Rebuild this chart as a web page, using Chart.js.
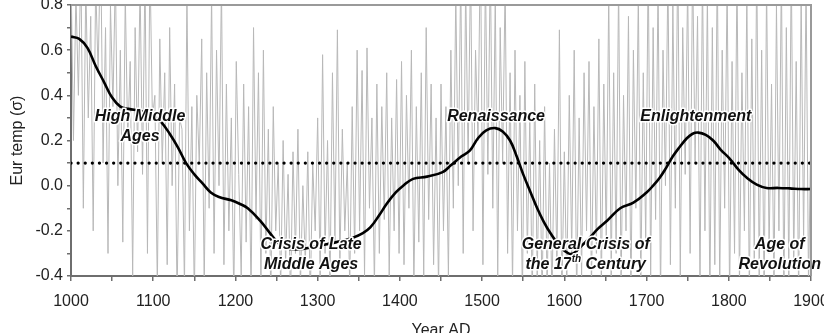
<!DOCTYPE html>
<html>
<head>
<meta charset="utf-8">
<title>European temperature reconstruction, 1000-1900</title>
<script src="https://cdn.jsdelivr.net/npm/chart.js@4.4.1/dist/chart.umd.min.js"></script>
<style>
  html, body { margin: 0; padding: 0; background: #fff; }
  #wrap { width: 824px; height: 333px; position: relative; }
</style>
</head>
<body>
<div id="wrap"><canvas id="eur-temp"></canvas></div>
<script>
// annual proxy series, sampled every 3 years from 1000 AD
const proxyStartYear = 1000;
const proxyStep = 3;
const proxyValues = [
  0.95, 0.2, 0.85, 0.4, 1.0, -0.1, 0.9, 0.3, 0.75, -0.2,
  0.9, 0.5, 1.1, 0.1, 0.7, -0.3, 0.8, 0.35, 0.95, 0.0,
  0.6, -0.25, 0.85, 0.2, 0.55, -0.4, 0.7, 0.15, 0.9, 0.05,
  0.95, -0.3, 1.0, 0.3, 0.4, -0.45, 0.65, 0.1, 0.5, -0.35,
  0.7, 0.0, 0.45, -0.5, 0.3, 0.25, -0.45, 0.85, -0.2, 0.35,
  -0.5, 0.4, 0.1, 0.65, -0.45, 0.5, -0.1, 0.85, -0.3, 0.6,
  0.0, 0.9, -0.35, 0.45, -0.2, 0.3, -0.5, 0.55, 0.05, -0.4,
  0.45, -0.25, 0.35, -0.5, 0.7, -0.15, 0.5, -0.45, 0.6, -0.3,
  0.25, -0.5, 0.35, -0.2, 0.1, -0.45, 0.2, -0.35, 0.05, -0.5,
  0.15, -0.3, 0.25, -0.45, 0.0, -0.35, 0.15, -0.5, 0.1, -0.2,
  0.3, -0.4, 0.58, -0.3, 0.2, -0.45, 0.5, -0.25, 0.69, -0.35,
  0.25, -0.2, 0.1, -0.45, 0.35, -0.3, 0.6, -0.2, 0.51, -0.4,
  0.61, -0.1, 0.3, -0.45, 0.45, -0.3, 0.35, -0.15, 0.5, -0.4,
  0.3, -0.2, 0.47, -0.3, 0.55, -0.35, 0.4, -0.1, 0.6, -0.45,
  0.35, -0.25, 0.5, -0.4, 0.7, -0.15, 0.45, -0.35, 0.3, -0.45,
  0.45, -0.2, 0.35, -0.4, 0.6, -0.1, 0.85, 0.0, 0.95, -0.3,
  0.9, 0.1, 1.0, -0.2, 0.6, 0.2, 1.1, -0.35, 0.95, 0.05,
  1.0, -0.1, 0.85, -0.4, 0.7, 0.1, 0.9, -0.3, 0.5, -0.45,
  0.6, -0.2, 0.4, -0.5, 0.55, -0.3, 0.3, -0.5, 0.45, -0.4,
  0.2, -0.5, 0.35, -0.45, 0.1, -0.5, 0.25, -0.35, 0.69, -0.5,
  0.15, -0.45, 0.4, -0.3, 0.6, -0.5, 0.3, -0.4, 0.5, -0.2,
  0.55, -0.45, 0.35, -0.3, 0.65, -0.45, 0.45, -0.25, 0.85, -0.4,
  0.5, -0.3, 0.9, -0.45, 0.4, -0.2, 0.75, -0.5, 0.6, -0.1,
  0.85, -0.45, 0.5, -0.25, 1.0, -0.4, 0.7, -0.15, 0.9, -0.5,
  0.6, 0.0, 0.95, -0.35, 0.8, -0.1, 1.05, -0.4, 0.7, 0.05,
  0.9, -0.3, 1.0, 0.1, 0.75, -0.45, 0.95, -0.2, 0.85, -0.5,
  0.7, -0.35, 1.0, -0.45, 0.6, -0.1, 0.9, -0.5, 0.55, -0.3,
  0.95, -0.45, 0.5, -0.2, 0.85, -0.5, 0.65, -0.35, 1.0, -0.4,
  0.6, -0.5, 0.9, -0.3, 0.45, -0.45, 0.8, -0.2, 0.95, -0.5,
  0.7, -0.4, 1.0, -0.35, 0.55, -0.5, 0.85, -0.25, 0.9, -0.45,
  0.3
];

// low-pass filtered curve
const smoothYears = [
  1000, 1010, 1020, 1030, 1040, 1050, 1060, 1070, 1085, 1100,
  1110, 1120, 1130, 1140, 1150, 1160, 1170, 1180, 1195, 1205,
  1215, 1230, 1242, 1254, 1266, 1282, 1303, 1323, 1343, 1355,
  1364, 1375, 1384, 1395, 1404, 1416, 1433, 1452, 1462, 1475,
  1485, 1495, 1505, 1516, 1525, 1534, 1542, 1550, 1559, 1567,
  1575, 1583, 1595, 1605, 1611, 1620, 1631, 1641, 1652, 1668,
  1684, 1700, 1708, 1716, 1724, 1732, 1740, 1749, 1756, 1763,
  1772, 1781, 1790, 1801, 1812, 1822, 1834, 1846, 1860, 1874,
  1888, 1900
];
const smoothValues = [
  0.66, 0.65, 0.61, 0.53, 0.46, 0.39, 0.35, 0.34, 0.33, 0.31,
  0.28, 0.23, 0.17, 0.10, 0.05, 0.01, -0.03, -0.05, -0.065, -0.08,
  -0.10, -0.155, -0.21, -0.26, -0.28, -0.28, -0.265, -0.25, -0.23, -0.21,
  -0.185, -0.13, -0.08, -0.03, 0.0, 0.03, 0.04, 0.06, 0.09, 0.13,
  0.155, 0.21, 0.245, 0.255, 0.24, 0.20, 0.13, 0.05, -0.03, -0.10,
  -0.16, -0.21, -0.27, -0.30, -0.30, -0.27, -0.23, -0.19, -0.155, -0.10,
  -0.075, -0.03, 0.0, 0.035, 0.08, 0.13, 0.17, 0.21, 0.23, 0.235,
  0.225, 0.20, 0.16, 0.12, 0.07, 0.035, 0.005, -0.01, -0.01, -0.012,
  -0.015, -0.015
];

// long-term mean
const meanYears = [1000, 1900];
const meanValues = [0.1, 0.1];

const periodLabels = [
  { lines: ['High Middle', 'Ages'], year: 1084, value: 0.305 },
  { lines: ['Renaissance'], year: 1517, value: 0.305 },
  { lines: ['Enlightenment'], year: 1760, value: 0.305 },
  { lines: ['Crisis of Late', 'Middle Ages'], year: 1292, value: -0.262 },
  { lines: ['General Crisis of', 'the 17^th^ Century'], year: 1626, value: -0.262 },
  { lines: ['Age of', 'Revolution'], year: 1862, value: -0.262 }
];

const toPoints = (xs, ys) => xs.map((x, i) => ({ x: x, y: ys[i] }));
const proxyPoints = proxyValues.map((v, i) => ({ x: proxyStartYear + i * proxyStep, y: v }));

const FONT = '"Liberation Sans", Arial, sans-serif';

// gray frame on top and right of the plot area
const framePlugin = {
  id: 'frame',
  afterDraw(chart) {
    const { ctx, chartArea: a } = chart;
    ctx.save();
    ctx.strokeStyle = '#9a9a9a';
    ctx.lineWidth = 2;
    ctx.beginPath();
    ctx.moveTo(a.left, a.top);
    ctx.lineTo(a.right, a.top);
    ctx.lineTo(a.right, a.bottom);
    ctx.stroke();
    ctx.restore();
  }
};

// bold italic period names with a white halo, '^..^' marks superscript
const periodPlugin = {
  id: 'periods',
  afterDatasetsDraw(chart) {
    const { ctx, scales } = chart;
    const mainFont = 'italic bold 16px ' + FONT;
    const supFont = 'italic bold 10px ' + FONT;
    ctx.save();
    ctx.textBaseline = 'middle';
    ctx.textAlign = 'left';
    ctx.lineJoin = 'round';
    periodLabels.forEach(lbl => {
      const cx = scales.x.getPixelForValue(lbl.year);
      const cy = scales.y.getPixelForValue(lbl.value);
      lbl.lines.forEach((line, li) => {
        const parts = line.split('^').map((t, k) => ({ text: t, sup: k % 2 === 1 }));
        let total = 0;
        parts.forEach(p => {
          ctx.font = p.sup ? supFont : mainFont;
          p.w = ctx.measureText(p.text).width;
          total += p.w;
        });
        let x = cx - total / 2;
        const y = cy + li * 20;
        parts.forEach(p => {
          ctx.font = p.sup ? supFont : mainFont;
          const py = p.sup ? y - 6 : y;
          ctx.strokeStyle = '#fff';
          ctx.lineWidth = 3;
          ctx.strokeText(p.text, x, py);
          ctx.fillStyle = '#111';
          ctx.fillText(p.text, x, py);
          x += p.w;
        });
      });
    });
    ctx.restore();
  }
};

new Chart(document.getElementById('eur-temp'), {
  type: 'line',
  data: {
    datasets: [{
      label: 'Smoothed',
      data: toPoints(smoothYears, smoothValues),
      borderColor: '#000',
      borderWidth: 2.6,
      pointRadius: 0,
      tension: 0.4,
      fill: false
    }, {
      label: 'Mean',
      data: toPoints(meanYears, meanValues),
      borderColor: '#000',
      borderWidth: 3.2,
      borderDash: [0.1, 7],
      borderCapStyle: 'round',
      pointRadius: 0,
      fill: false
    }, {
      label: 'Annual',
      data: proxyPoints,
      borderColor: '#b8b8b8',
      borderWidth: 1,
      pointRadius: 0,
      tension: 0,
      fill: false
    }]
  },
  options: {
    responsive: true,
    maintainAspectRatio: false,
    animation: false,
    layout: { padding: { top: 5, right: 13, left: 0, bottom: 0 } },
    plugins: {
      legend: { display: false },
      tooltip: { enabled: false }
    },
    scales: {
      x: {
        type: 'linear',
        min: 1000,
        max: 1900,
        afterFit(scale) {
          scale.height = 57;
          scale.paddingLeft = 0;
          scale.paddingRight = 0;
        },
        border: { color: '#6e6e6e', width: 2 },
        grid: { drawOnChartArea: false, drawTicks: true, tickLength: 5, color: '#6e6e6e', lineWidth: 1.5 },
        ticks: {
          stepSize: 50,
          autoSkip: false,
          maxRotation: 0,
          padding: 11,
          color: '#222',
          font: { family: FONT, size: 16 },
          callback: v => (v % 100 === 0 ? String(v) : '')
        },
        title: {
          display: true,
          text: 'Year AD',
          color: '#222',
          font: { family: FONT, size: 16 },
          padding: { top: 0, bottom: -7 }
        }
      },
      y: {
        min: -0.4,
        max: 0.8,
        afterFit(scale) {
          scale.width = 71;
          scale.paddingTop = 0;
          scale.paddingBottom = 0;
        },
        border: { color: '#6e6e6e', width: 2 },
        grid: { drawOnChartArea: false, drawTicks: true, tickLength: 4, color: '#6e6e6e', lineWidth: 1.5 },
        ticks: {
          stepSize: 0.1,
          autoSkip: false,
          padding: 4,
          color: '#222',
          font: { family: FONT, size: 16 },
          callback: v => {
            const r = Math.round(v * 10);
            return r % 2 === 0 ? (r / 10).toFixed(1) : '';
          }
        },
        title: {
          display: true,
          text: 'Eur temp (σ)',
          color: '#222',
          font: { family: FONT, size: 16 },
          padding: { top: 8, bottom: 0 }
        }
      }
    }
  },
  plugins: [framePlugin, periodPlugin]
});
</script>
</body>
</html>
